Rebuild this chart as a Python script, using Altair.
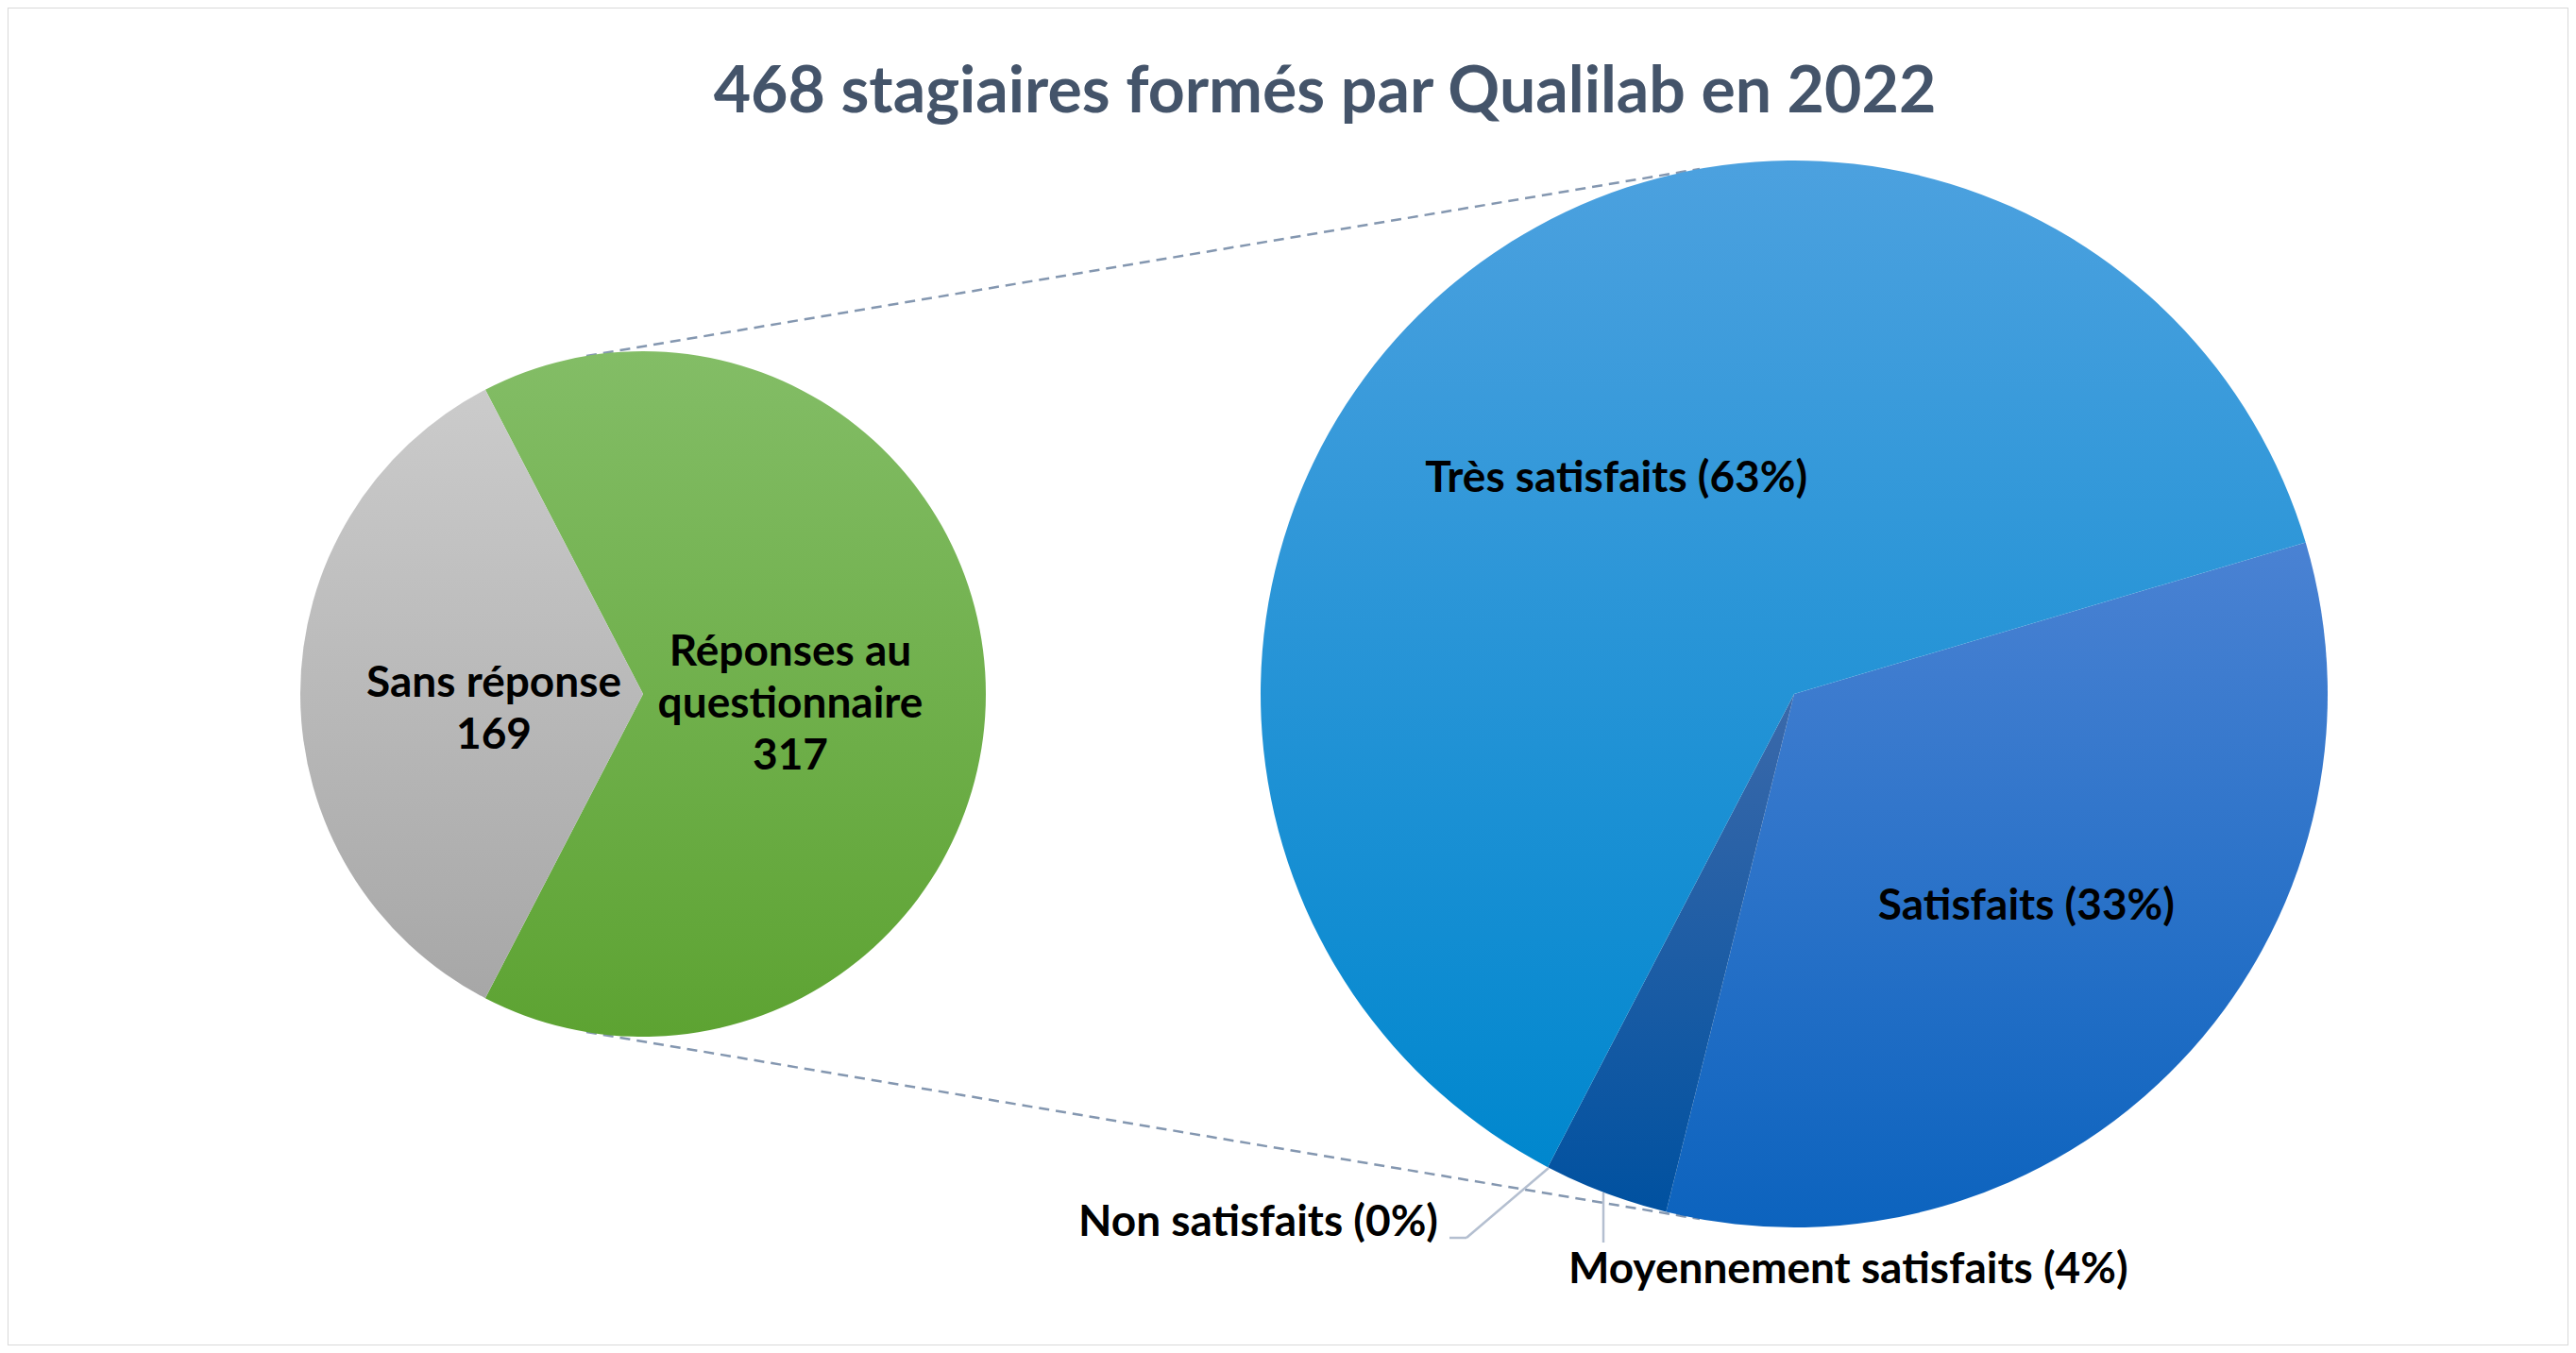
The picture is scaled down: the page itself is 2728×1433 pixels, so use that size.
import math
import pandas as pd
import altair as alt

# ---------------- data ----------------
TITLE = "468 stagiaires formés par Qualilab en 2022"

LEFT_CATS = ["Réponses au questionnaire", "Sans réponse"]
LEFT_TEXT = ["Réponses au\nquestionnaire", "Sans réponse"]
LEFT_VALUES = [317, 169]

RIGHT_CATS = ["Satisfaits", "Moyennement satisfaits", "Non satisfaits", "Très satisfaits"]
RIGHT_VALUES = [106, 12, 0, 199]

# ---------------- layout / style ----------------
W, H = 2712, 1417
FONT = "Lato"
LABEL_SIZE = 46
TITLE_SIZE = 68

L_CX, L_CY, L_R = 673, 727, 363
R_CX, R_CY, R_R = 1892, 727, 565
L_START_DEG = -27.4
R_START_DEG = 73.5


def grad(top, bottom):
    return {"gradient": "linear", "x1": 0, "y1": 0, "x2": 0, "y2": 1,
            "stops": [{"offset": 0, "color": top}, {"offset": 1, "color": bottom}]}


FILLS = {
    "Réponses au questionnaire": grad("#83bd66", "#5da332"),
    "Sans réponse": grad("#cbcbcb", "#a7a7a7"),
    "Très satisfaits": grad("#4ca1df", "#0087ce"),
    "Satisfaits": grad("#4a82d3", "#0c63be"),
    "Moyennement satisfaits": grad("#3b69aa", "#0051a0"),
    "Non satisfaits": grad("#3b69aa", "#0051a0"),
}

# (radius, dx, dy) for labels drawn inside the slices
LABEL_POS = {
    "Réponses au questionnaire": (164, -8, -44),
    "Sans réponse": (158, 0, -11),
    "Très satisfaits": (296, 0, 0),
    "Satisfaits": (340, 0, -10),
}

left_df = pd.DataFrame({"cat": LEFT_CATS, "txt": LEFT_TEXT, "value": LEFT_VALUES,
                        "order": range(len(LEFT_CATS))})
right_df = pd.DataFrame({"cat": RIGHT_CATS, "value": RIGHT_VALUES,
                         "order": range(len(RIGHT_CATS))})


def pie(df, cx, cy, r, start_deg, label_expr, labelled):
    total = float(sum(df["value"]))
    a0 = math.radians(start_deg)
    scale = alt.Scale(domain=[0, total], range=[a0, a0 + 2 * math.pi])
    base = (alt.Chart(df)
            .transform_window(cum="sum(value)", sort=[alt.SortField("order")], frame=[None, 0])
            .transform_joinaggregate(total="sum(value)")
            .transform_calculate(start="datum.cum - datum.value",
                                 mid="datum.cum - datum.value / 2",
                                 label=label_expr))
    layers = []
    for c in df["cat"]:
        layers.append(
            base.transform_filter(alt.datum.cat == c)
            .mark_arc(fill=FILLS[c], strokeWidth=0)
            .encode(x=alt.value(cx), y=alt.value(cy), radius=alt.value(r),
                    theta=alt.Theta("start:Q", scale=scale, stack=False),
                    theta2="cum:Q")
        )
    for c in labelled:
        rad, dx, dy = LABEL_POS[c]
        layers.append(
            base.transform_filter(alt.datum.cat == c)
            .mark_text(font=FONT, fontWeight="bold", fontSize=LABEL_SIZE, color="#000000",
                       lineBreak="\n", lineHeight=55, align="center", baseline="middle",
                       dx=dx, dy=dy)
            .encode(x=alt.value(cx), y=alt.value(cy),
                    theta=alt.Theta("mid:Q", scale=scale, stack=False),
                    radius=alt.value(rad),
                    text="label:N")
        )
    return alt.layer(*layers)


left = pie(left_df, L_CX, L_CY, L_R, L_START_DEG,
           "datum.txt + '\\n' + datum.value", ["Réponses au questionnaire", "Sans réponse"])
right = pie(right_df, R_CX, R_CY, R_R, R_START_DEG,
            "datum.cat + ' (' + round(datum.value / datum.total * 100) + '%)'",
            ["Très satisfaits", "Satisfaits"])

one = pd.DataFrame({"k": [0]})


# dashed connectors between the two pies
def connector(y_left, y_right):
    return alt.Chart(one).mark_rule(color="#8497b0", strokeWidth=2.5, strokeDash=[11, 7]).encode(
        x=alt.value(L_CX - 60), y=alt.value(y_left), x2=alt.value(R_CX - 100), y2=alt.value(y_right))


dl = math.sqrt(L_R ** 2 - 60 ** 2)
dr = math.sqrt(R_R ** 2 - 100 ** 2)
con_top = connector(L_CY - dl, R_CY - dr)
con_bot = connector(L_CY + dl, R_CY + dr)

# leader lines for the outside labels
LEAD = "#b4bfd0"
lead1 = alt.Chart(one).mark_rule(color=LEAD, strokeWidth=2.5).encode(
    x=alt.value(1632), y=alt.value(1229), x2=alt.value(1545), y2=alt.value(1303))
lead2 = alt.Chart(one).mark_rule(color=LEAD, strokeWidth=2.5).encode(
    x=alt.value(1545), y=alt.value(1303), x2=alt.value(1527), y2=alt.value(1303))
lead3 = alt.Chart(one).mark_rule(color=LEAD, strokeWidth=2.5).encode(
    x=alt.value(1690), y=alt.value(1255), x2=alt.value(1690), y2=alt.value(1308))

out_base = (alt.Chart(right_df)
            .transform_joinaggregate(total="sum(value)")
            .transform_calculate(label="datum.cat + ' (' + round(datum.value / datum.total * 100) + '%)'"))
lab_non = out_base.transform_filter(alt.datum.cat == "Non satisfaits").mark_text(
    font=FONT, fontWeight="bold", fontSize=LABEL_SIZE, color="#000000", align="right",
    baseline="alphabetic").encode(x=alt.value(1515), y=alt.value(1301), text="label:N")
lab_moy = out_base.transform_filter(alt.datum.cat == "Moyennement satisfaits").mark_text(
    font=FONT, fontWeight="bold", fontSize=LABEL_SIZE, color="#000000", align="left",
    baseline="alphabetic").encode(x=alt.value(1653), y=alt.value(1351), text="label:N")

title = alt.Chart(pd.DataFrame({"t": [TITLE]})).mark_text(
    font=FONT, fontWeight="bold", fontSize=TITLE_SIZE, color="#44546a", align="center",
    baseline="alphabetic").encode(x=alt.value(1395), y=alt.value(111), text="t:N")

chart = (alt.layer(con_top, con_bot, left, right, lead1, lead2, lead3, lab_non, lab_moy, title)
         .resolve_scale(theta="independent")
         .properties(width=W, height=H, autosize="none", padding=0, background="#ffffff")
         .configure_view(stroke="#d9d9d9", strokeWidth=2))

chart.save("out.html", embed_options={"renderer": "svg", "actions": False})
